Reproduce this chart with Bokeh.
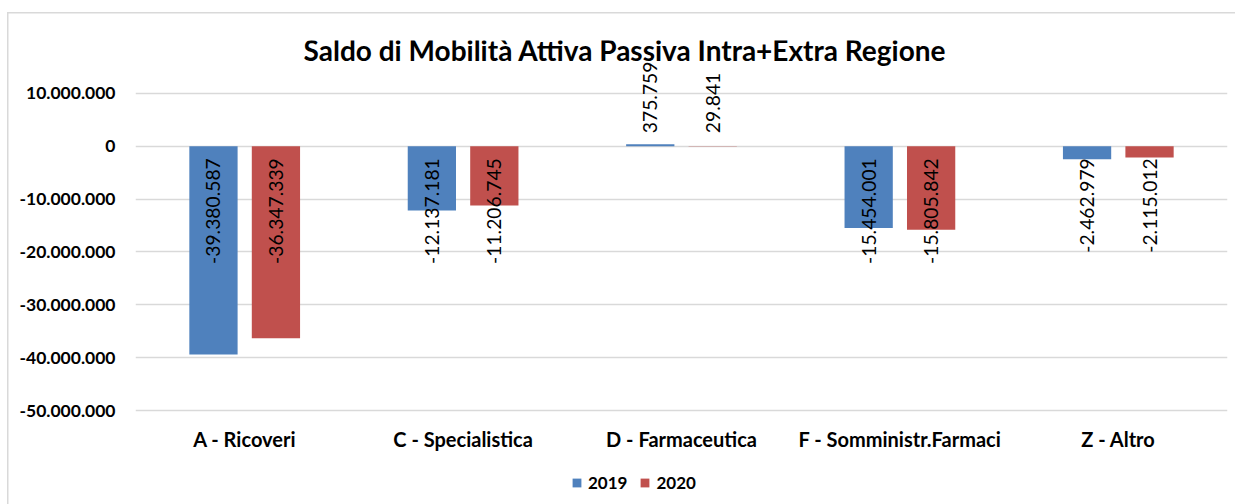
from math import pi
from bokeh.plotting import figure
from bokeh.models import (ColumnDataSource, FactorRange, Range1d, FixedTicker, Legend,
                          LegendItem, Label)
from bokeh.transform import dodge
from bokeh.core.properties import value, field
from bokeh.embed import file_html
from bokeh.resources import INLINE

# ---------------- data ----------------
categories = ["A - Ricoveri", "C - Specialistica", "D - Farmaceutica",
              "F - Somministr.Farmaci", "Z - Altro"]
series_names = ["2019", "2020"]
values_2019 = [-39380587, -12137181, 375759, -15454001, -2462979]
values_2020 = [-36347339, -11206745, 29841, -15805842, -2115012]
y_ticks = [10000000, 0, -10000000, -20000000, -30000000, -40000000, -50000000]
y_tick_labels = ["10.000.000", "0", "-10.000.000", "-20.000.000",
                 "-30.000.000", "-40.000.000", "-50.000.000"]
title_text = "Saldo di Mobilità Attiva Passiva Intra+Extra  Regione"

# ---------------- style ----------------
COLORS = ["#4F81BD", "#C0504D"]
FONT = "Lato"
GRID = "#D9D9D9"
Y_MIN = -50000000     # lowest gridline (category labels sit just under it)


def fmt(v):
    return f"{v:,}".replace(",", ".")


# the frame reaches the bottom of the canvas so that category names and the
# legend (both below the lowest gridline) can be drawn inside it
p = figure(width=1235, height=504,
           x_range=FactorRange(*categories, range_padding=0),
           y_range=Range1d(-67780000, 20000000),
           output_backend="svg", toolbar_location=None,
           min_border_left=135, min_border_right=8,
           min_border_top=40, min_border_bottom=0)
p.outline_line_color = None
p.background_fill_color = None
p.border_fill_color = None
# chart-area border (light grey frame around the whole chart object)
p.styles = {
    "background": ("linear-gradient(#D9D9D9, #D9D9D9) 7px 12px / 1.5px 600px no-repeat, "
                   "linear-gradient(#D9D9D9, #D9D9D9) 7px 12px / 1400px 1.5px no-repeat, "
                   "#FFFFFF"),
}

# grid
p.xgrid.grid_line_color = None
p.ygrid.ticker = FixedTicker(ticks=y_ticks)
p.ygrid.grid_line_color = GRID
p.ygrid.grid_line_width = 1.5

# y axis
p.yaxis.ticker = FixedTicker(ticks=y_ticks)
p.yaxis.major_label_overrides = {t: l for t, l in zip(y_ticks, y_tick_labels)}
p.yaxis.axis_line_color = None
p.yaxis.major_tick_line_color = None
p.yaxis.minor_tick_line_color = None
p.yaxis.major_label_standoff = 14
p.yaxis.major_label_text_font = FONT
p.yaxis.major_label_text_font_style = "bold"
p.yaxis.major_label_text_font_size = "17.5px"
p.yaxis.major_label_text_color = "black"

# x axis: category names are drawn under the lowest gridline below
p.xaxis.visible = False
cat_src = ColumnDataSource(dict(cat=categories))
p.text(x="cat", y=Y_MIN, text="cat", source=cat_src, y_offset=28,
       text_align="center", text_baseline="middle", text_font=value(FONT),
       text_font_style="bold", text_font_size=value("20px"), text_color="black")

offsets = [-0.143, 0.143]
renderers = []
for name, vals, off, col in zip(series_names, [values_2019, values_2020], offsets, COLORS):
    src = ColumnDataSource(dict(
        cat=categories,
        val=vals,
        label=[fmt(v) for v in vals],
        align=["right" if v < 0 else "left" for v in vals],
        yoff=[12 if v < 0 else -13 for v in vals],
    ))
    r = p.vbar(x=dodge("cat", off, range=p.x_range), top="val", bottom=0, width=0.221,
               source=src, fill_color=col, line_color=None)
    renderers.append(r)
    p.text(x=dodge("cat", off, range=p.x_range), y=0, text="label", source=src,
           angle=pi / 2, text_align=field("align"), text_baseline="middle",
           y_offset=field("yoff"), text_font=value(FONT), text_font_size=value("19.3px"),
           text_color="black")

legend = Legend(items=[LegendItem(label=n, renderers=[r]) for n, r in zip(series_names, renderers)],
                orientation="horizontal", location=(436, 11),
                glyph_width=11, glyph_height=11, label_standoff=6, spacing=12,
                padding=0, margin=0, border_line_color=None, background_fill_alpha=0,
                label_text_font=FONT, label_text_font_style="bold",
                label_text_font_size="17px", label_height=20, label_text_color="black")
p.add_layout(legend)

p.add_layout(Label(x=2.257, y=18150000, text=title_text, text_align="center",
                   text_baseline="middle", text_font=FONT, text_font_style="bold",
                   text_font_size="28px", text_color="black"))

open("out.html", "w").write(file_html(p, INLINE))
